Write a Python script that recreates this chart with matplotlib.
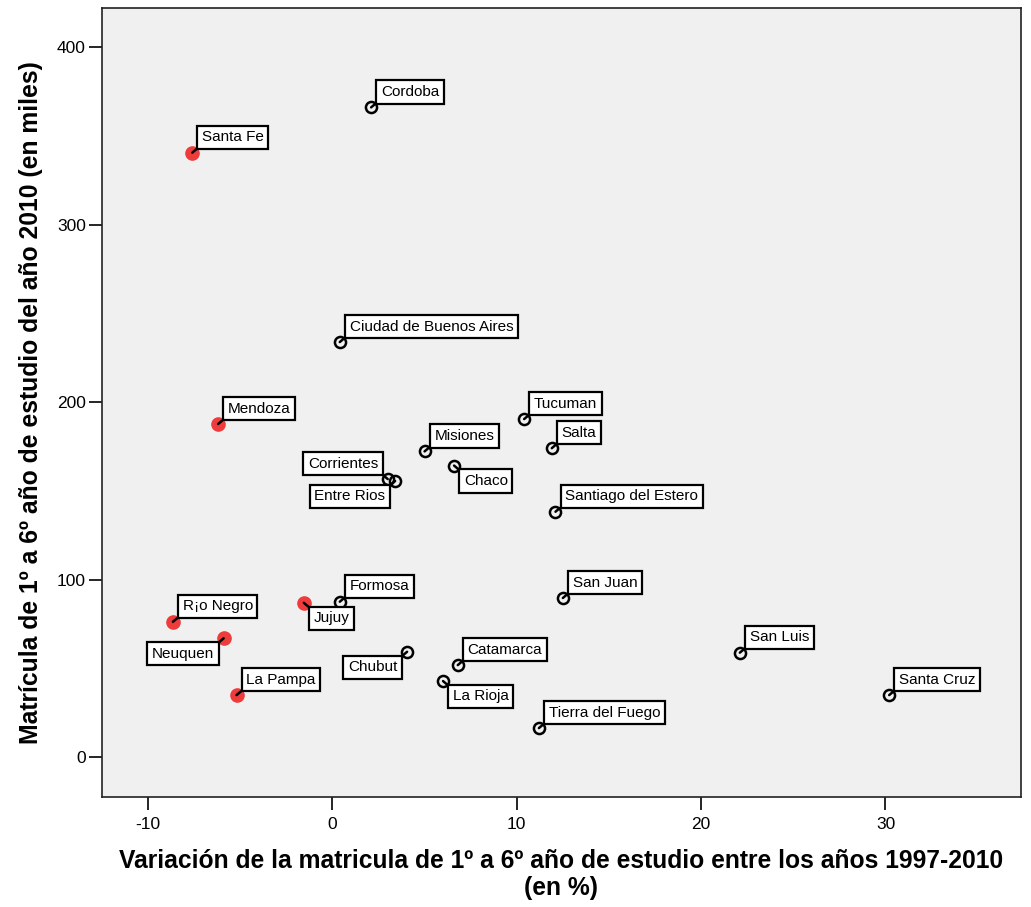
import matplotlib
matplotlib.use("Agg")
import matplotlib.pyplot as plt

plt.rcParams['font.family'] = ['Liberation Sans', 'DejaVu Sans']
plt.rcParams['axes.unicode_minus'] = False

# datos por provincia
provincias = ["Cordoba", "Santa Fe", "Ciudad de Buenos Aires", "Mendoza", "Tucuman",
              "Salta", "Misiones", "Chaco", "Corrientes", "Entre Rios",
              "Santiago del Estero", "San Juan", "San Luis", "Santa Cruz",
              "Tierra del Fuego", "La Rioja", "Catamarca", "Chubut", "Formosa",
              "Jujuy", "R¡o Negro", "Neuquen", "La Pampa"]
variacion = [2.1, -7.6, 0.4, -6.2, 10.4,
             11.9, 5.0, 6.6, 3.0, 3.4,
             12.1, 12.5, 22.1, 30.2,
             11.2, 6.0, 6.8, 4.05, 0.4,
             -1.55, -8.65, -5.9, -5.2]
matricula = [366, 340.5, 233.8, 187.6, 190.4,
             174.0, 172.2, 164.2, 156.6, 155.5,
             138.2, 89.6, 58.8, 34.9,
             16.3, 42.8, 51.8, 59.3, 87.5,
             86.9, 76.2, 66.9, 34.9]
destacadas = ["Santa Fe", "Mendoza", "Jujuy", "R¡o Negro", "Neuquen", "La Pampa"]

# posicion de la etiqueta respecto del punto
pos_etiqueta = {"Chaco": "dr", "Jujuy": "dr", "La Rioja": "dr",
                "Entre Rios": "dl", "Neuquen": "dl", "Chubut": "dl",
                "Corrientes": "ul"}

fig = plt.figure(figsize=(10.31, 9.07), dpi=100)
ax = fig.add_axes([0.0989, 0.1213, 0.8914, 0.8699])
ax.set_facecolor("#f0f0f0")

for nombre, x, y in zip(provincias, variacion, matricula):
    if nombre in destacadas:
        ax.plot(x, y, "o", ms=9.5, mfc="#ee3b3b", mec="#ee3b3b", zorder=3)
    else:
        ax.plot(x, y, "o", ms=8, mfc="none", mec="black", mew=1.8, zorder=3)
    p = pos_etiqueta.get(nombre, "ur")
    dx = 7 if p[1] == "r" else -7
    dy = 6 if p[0] == "u" else -6
    ha = "left" if p[1] == "r" else "right"
    va = "bottom" if p[0] == "u" else "top"
    rel = (0 if p[1] == "r" else 1, 0 if p[0] == "u" else 1)
    ax.annotate(nombre, (x, y), xytext=(dx, dy), textcoords="offset points",
                ha=ha, va=va, fontsize=11, zorder=4,
                bbox=dict(boxstyle="square,pad=0.3", fc="white", ec="black", lw=1.6),
                arrowprops=dict(arrowstyle="-", color="black", lw=1.8, relpos=rel,
                                shrinkA=0, shrinkB=0))

ax.set_xlim(-12.5, 37.35)
ax.set_ylim(-22.5, 422)
ax.set_xticks([-10, 0, 10, 20, 30])
ax.set_yticks([0, 100, 200, 300, 400])
ax.tick_params(length=9.5, width=1.2, labelsize=12.5)
ax.tick_params(axis="y", pad=2)
ax.tick_params(axis="x", pad=5)
for s in ax.spines.values():
    s.set_linewidth(1.2)
    s.set_color("#222222")

ax.set_xlabel("Variación de la matricula de 1º a 6º año de estudio entre los años 1997-2010\n(en %)",
              fontsize=17.7, fontweight="bold", labelpad=12, linespacing=1.15)
ax.set_ylabel("Matrícula de 1º a 6º año de estudio del año 2010 (en miles)",
              fontsize=17.8, fontweight="bold", labelpad=10)

fig.savefig("out.png", dpi=100)
